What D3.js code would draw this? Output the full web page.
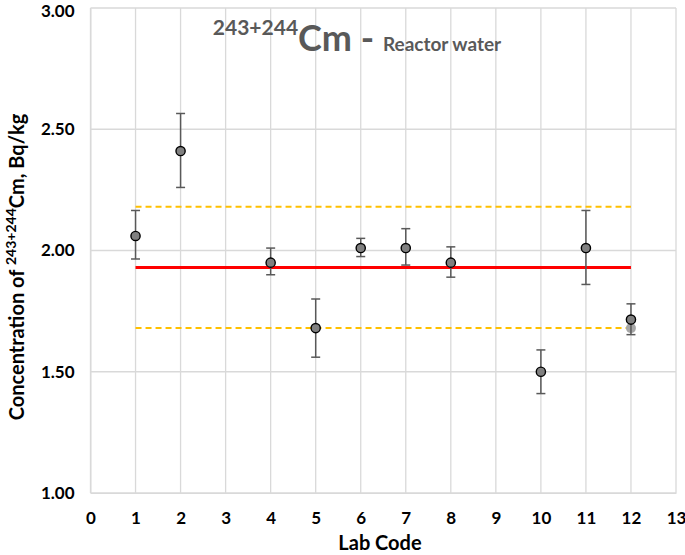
<!DOCTYPE html>
<html><head><meta charset="utf-8">
<script src="https://cdn.jsdelivr.net/npm/d3@7"></script>
<style>body{margin:0;background:#fff}svg{display:block}text{font-family:Lato,"Open Sans",sans-serif}</style>
</head><body>
<svg id="c" width="685" height="555"></svg>
<script>
const labs = [1, 2, 4, 5, 6, 7, 8, 10, 11, 12];
const values = [2.06, 2.41, 1.95, 1.68, 2.01, 2.01, 1.95, 1.50, 2.01, 1.715];
const errLow = [1.965, 2.26, 1.90, 1.56, 1.975, 1.94, 1.89, 1.41, 1.86, 1.653];
const errHigh = [2.165, 2.565, 2.01, 1.80, 2.05, 2.09, 2.015, 1.59, 2.165, 1.78];
const refValue = 1.93;
const upperLimit = 2.18;
const lowerLimit = 1.68;
const refLab = 12, refLabValue = 1.68;
const xTicks = d3.range(0, 14);
const yTicks = [1.0, 1.5, 2.0, 2.5, 3.0];

const svg = d3.select("#c");
const x = d3.scaleLinear().domain([0, 13]).range([90.5, 676]);
const y = d3.scaleLinear().domain([1, 3]).range([493, 8]);

// grid
const g = svg.append("g");
g.selectAll(".vg").data(xTicks).join("line")
  .attr("x1", d => x(d)).attr("x2", d => x(d)).attr("y1", y(1)).attr("y2", y(3))
  .attr("stroke", "#d9d9d9").attr("stroke-width", 1.3);
g.selectAll(".hg").data(yTicks).join("line")
  .attr("x1", x(0)).attr("x2", x(13)).attr("y1", d => y(d)).attr("y2", d => y(d))
  .attr("stroke", "#d9d9d9").attr("stroke-width", 1.3);

// axes
const xa = svg.append("g").attr("transform", `translate(0,${y(1)})`)
  .call(d3.axisBottom(x).tickValues(xTicks).tickSize(0).tickPadding(19).tickFormat(d3.format("d")));
xa.select(".domain").attr("stroke", "#d9d9d9");
xa.selectAll("text").attr("font-size", 17).attr("font-weight", "bold").attr("fill", "#000");
const ya = svg.append("g").attr("transform", `translate(${x(0)},0)`)
  .call(d3.axisLeft(y).tickValues(yTicks).tickSize(0).tickPadding(16).tickFormat(d3.format(".2f")));
ya.select(".domain").attr("stroke", "#d9d9d9");
ya.selectAll("text").attr("font-size", 17).attr("font-weight", "bold").attr("fill", "#000");
ya.selectAll(".tick").filter(d => d === 3).select("text").attr("dy", "0.5em");

// reference lines
const lineX = [x(1), x(12)];
svg.append("line").attr("x1", lineX[0]).attr("x2", lineX[1]).attr("y1", y(upperLimit)).attr("y2", y(upperLimit))
  .attr("stroke", "#ffc000").attr("stroke-width", 2).attr("stroke-dasharray", "6,4");
svg.append("line").attr("x1", lineX[0]).attr("x2", lineX[1]).attr("y1", y(lowerLimit)).attr("y2", y(lowerLimit))
  .attr("stroke", "#ffc000").attr("stroke-width", 2).attr("stroke-dasharray", "6,4");
svg.append("line").attr("x1", lineX[0]).attr("x2", lineX[1]).attr("y1", y(refValue)).attr("y2", y(refValue))
  .attr("stroke", "#ff0000").attr("stroke-width", 3);

// reference point
svg.append("circle").attr("cx", x(refLab)).attr("cy", y(refLabValue)).attr("r", 5).attr("fill", "#a6a6a6");

// error bars
const data = labs.map((l, i) => ({l, v: values[i], lo: errLow[i], hi: errHigh[i]}));
const eb = svg.append("g").attr("stroke", "#595959").attr("stroke-width", 1.5);
eb.selectAll(".v").data(data).join("line")
  .attr("x1", d => x(d.l)).attr("x2", d => x(d.l)).attr("y1", d => y(d.lo)).attr("y2", d => y(d.hi));
eb.selectAll(".t").data(data).join("line")
  .attr("x1", d => x(d.l) - 4.5).attr("x2", d => x(d.l) + 4.5).attr("y1", d => y(d.hi)).attr("y2", d => y(d.hi));
eb.selectAll(".b").data(data).join("line")
  .attr("x1", d => x(d.l) - 4.5).attr("x2", d => x(d.l) + 4.5).attr("y1", d => y(d.lo)).attr("y2", d => y(d.lo));

// points
svg.append("g").selectAll("circle").data(data).join("circle")
  .attr("cx", d => x(d.l)).attr("cy", d => y(d.v)).attr("r", 4.6)
  .attr("fill", "#808080").attr("stroke", "#000").attr("stroke-width", 1.4);

// title
const t = svg.append("text").attr("x", 357).attr("y", 51).attr("text-anchor", "middle")
  .attr("fill", "#595959").attr("font-weight", "bold");
t.append("tspan").attr("font-size", 21).attr("dy", -16).text("243+244");
t.append("tspan").attr("font-size", 36).attr("dy", 16).text("Cm - ");
t.append("tspan").attr("font-size", 19).text("Reactor water");

// axis titles
svg.append("text").attr("x", 380).attr("y", 550).attr("text-anchor", "middle")
  .attr("font-size", 20).attr("font-weight", "bold").attr("fill", "#000").text("Lab Code");
const yl = svg.append("text").attr("transform", "translate(24,267) rotate(-90)").attr("text-anchor", "middle")
  .attr("font-size", 20).attr("font-weight", "bold").attr("fill", "#000");
yl.append("tspan").text("Concentration of ");
yl.append("tspan").attr("font-size", 14).attr("dy", -8).text("243+244");
yl.append("tspan").attr("dy", 8).text("Cm, Bq/kg");
</script>
</body></html>
